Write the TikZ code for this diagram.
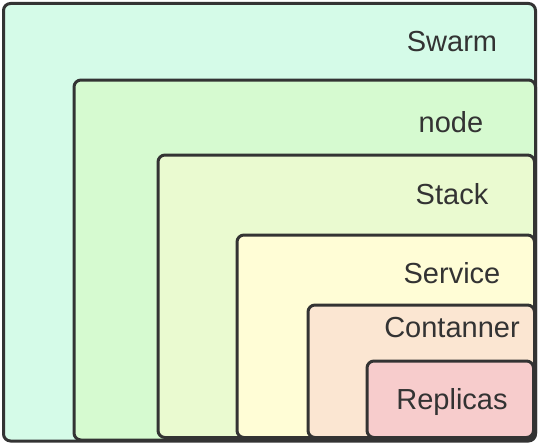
\documentclass[tikz,border=0pt]{standalone}
\usepackage{fontspec}
\setmainfont{Liberation Sans}
\def\lw{3pt}
\def\rad{7pt}
\definecolor{cswarm}{HTML}{D5FBE8}
\definecolor{cnode}{HTML}{D6FAD0}
\definecolor{cstack}{HTML}{EAFAD0}
\definecolor{cservice}{HTML}{FFFDD6}
\definecolor{ccont}{HTML}{FBE6D2}
\definecolor{crepl}{HTML}{F7CCCC}
\tikzstyle{box}=[draw=black!80,line width=\lw,rounded corners=\rad]
\tikzstyle{lbl}=[inner sep=0pt,text=black!80,font=\fontsize{29}{34}\selectfont]

\begin{document}
\begin{tikzpicture}[x=1pt,y=-1pt]
			\useasboundingbox (0,0) rectangle (538,444);
			\draw[box,fill=cswarm](3.5,3.5) rectangle (535.5,441);
			\draw[box,fill=cnode](74,80) rectangle (535.5,440);
			\draw[box,fill=cstack](158,155) rectangle (534.5,437.5);
			\draw[box,fill=cservice](237,235) rectangle (534.5,437.5);
			\draw[box,fill=ccont](308,305) rectangle (534.5,437.5);
			\draw[box,fill=crepl](367,361) rectangle (533.5,437.5);
			\node[lbl](swarm) at (452,42){Swarm};
			\node[lbl](node) at (451,122){node};
			\node[lbl](stack) at (452,194){Stack};
			\node[lbl](service) at (452,273){Service};
			\node[lbl](cont) at (452,328){Contanner};
			\node[lbl](repl) at (452,402){Replicas};
		\end{tikzpicture}
\end{document}
